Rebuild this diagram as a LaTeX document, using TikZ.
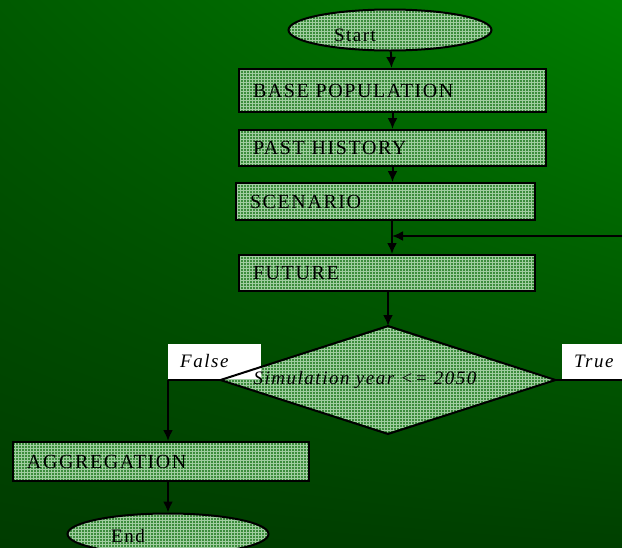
\documentclass[tikz,border=0pt]{standalone}
\usepackage{fontspec}
\setmainfont{Liberation Serif}[LetterSpace=8]
\usetikzlibrary{shapes.geometric,patterns,shadings,arrows.meta}

\definecolor{bgtl}{RGB}{0,90,0}
\definecolor{bgtr}{RGB}{0,128,0}
\definecolor{bgbl}{RGB}{0,60,0}
\definecolor{bgbr}{RGB}{0,64,0}
\definecolor{boxgreen}{RGB}{60,140,60}
\definecolor{gridgreen}{RGB}{160,205,160}

\tikzset{
	chk/.style={draw=black,line width=2pt,preaction={fill=boxgreen},
		preaction={pattern=grid,pattern color=gridgreen}},
	stepbox/.style={chk,rectangle,anchor=north west,inner xsep=14pt,
		minimum height=#1,align=left},
	oval/.style={chk,ellipse,minimum width=203pt,minimum height=41pt,inner sep=0pt},
	tag/.style={fill=white,anchor=south west,minimum width=93pt,minimum height=35pt,
		text width=69pt,inner xsep=12pt,align=left,font=\itshape\fontsize{19}{22}\selectfont},
	link/.style={line width=2pt},
}

\begin{document}
\begin{tikzpicture}[x=1pt,y=-1pt,>={Latex[length=11pt,width=10pt]},font=\fontsize{20}{23}\selectfont]
\useasboundingbox (0,0) rectangle (622,547);
\shade[upper left=bgtl,upper right=bgtr,lower left=bgbl,lower right=bgbr]
	(0,0) rectangle (622,547);
\clip (0,0) rectangle (622,547);

% start and boxes
\node[oval,label={[xshift=-35pt,yshift=-5pt,font=\fontsize{19}{22}\selectfont]center:Start}]
	(start) at (390,30) {};
\node[stepbox=43pt,text width=279pt] (base) at (238,68) {BASE POPULATION};
\node[stepbox=36pt,text width=279pt] (past) at (238,129) {PAST HISTORY};
\node[stepbox=37pt,text width=271pt] (scen) at (235,182) {SCENARIO};
\node[stepbox=36pt,text width=268pt] (future) at (238,254) {FUTURE};

% decision (fill first, the white tags go over it, then its outline and text)
\node[chk,draw=none,diamond,minimum width=333pt,minimum height=106pt,inner sep=0pt]
	(dec) at (388,380) {};

\node[stepbox=39pt,text width=268pt] (agg) at (12,441) {AGGREGATION};
\node[oval,minimum width=201pt,
	label={[xshift=-40pt,yshift=-2pt,font=\fontsize{19}{22}\selectfont]center:End}]
	(finish) at (168,534) {};

\coordinate (join) at (392,236);
\coordinate (loopin) at (622,236);
\coordinate (loopout) at (622,380);
\coordinate (fcorner) at (168,380);

\begin{scope}[link]
\draw[->] (start) -- (base);
\draw[->] (base) -- (past);
\draw[->] (past.south) -- (past.south |- scen.north);
\draw (scen.south -| join) -- (join);
\draw[->] (join) -- (future.north -| join);
\draw[->] (loopin) -- (join);
\draw[->] (future.south -| dec.north) -- (dec.north);
\draw (dec.east) -- (loopout);
\draw (dec.west) -- (fcorner);
\draw[->] (fcorner) -- (fcorner |- agg.north);
\draw[->] (fcorner |- agg.south) -- (finish);
\end{scope}

% labels on the branches
\node[tag] (nolab) at (168,379) {False};
\node[tag] (yeslab) at (562,379) {True};

\draw[link,line join=miter] (dec.north) -- (dec.east) -- (dec.south) -- (dec.west) -- cycle;
\node[xshift=-23pt,font=\itshape\fontsize{19}{22}\selectfont] (dectext) at (dec.center)
	{Simulation year \textless= 2050};
\end{tikzpicture}
\end{document}
